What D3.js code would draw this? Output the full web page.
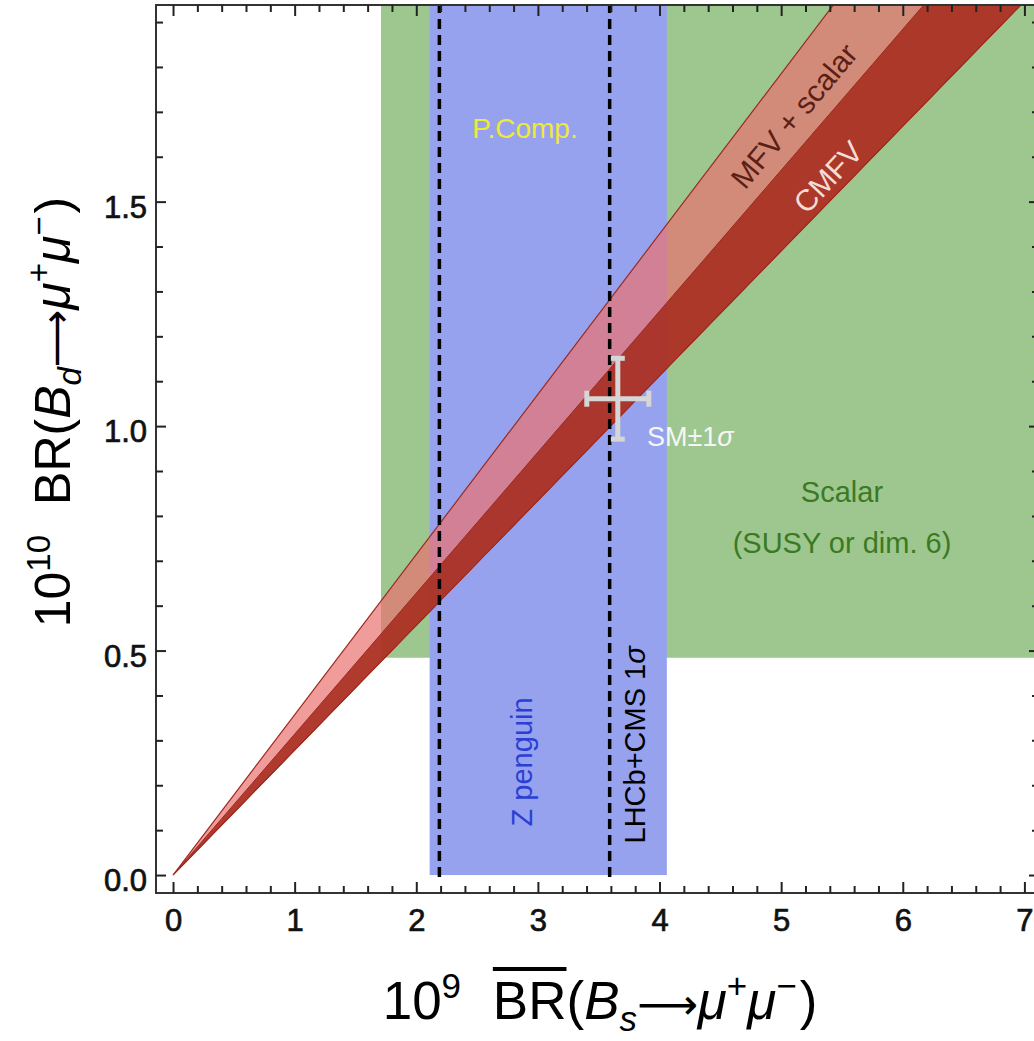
<!DOCTYPE html>
<html>
<head>
<meta charset="utf-8">
<script src="https://cdn.jsdelivr.net/npm/d3@7"></script>
<style>
	body { margin: 0; background: #fff; }
	svg { display: block; }
	text { font-family: "Liberation Sans", Arial, sans-serif; }
</style>
</head>
<body>
<svg id="chart" width="1034" height="1041"></svg>
<script>
// regions of the plane, in data units
var scalarCorner = [1.71, 0.484];          // green box starts here, runs to top/right
var zPenguinX = [2.11, 4.06];              // blue band (from BR_d = 0 up)
var lhcbCmsX = [2.19, 3.59];               // dashed 1 sigma lines
var mfvSlopes = [0.278, 0.357];            // MFV + scalar wedge
var cmfvSlopes = [0.278, 0.314];           // CMFV wedge
var smPoint = [3.657, 1.061];
var smErr = [0.255, 0.09];

var xMajor = [0, 1, 2, 3, 4, 5, 6, 7];
var yMajor = [0, 0.5, 1.0, 1.5];

;(function(){
	var svg = d3.select("#chart");

	var left = 156, right = 1039, top = 5, bottom = 893;

	var x = d3.scaleLinear().domain([-0.14, 7.12]).range([left, right]);
	var y = d3.scaleLinear().domain([-0.04, 1.938]).range([bottom, top]);

	var xMinor = d3.range(0, 7.01, 0.2).filter(function(d){ return Math.abs(d - Math.round(d)) > 1e-6; });
	var yMinor = d3.range(0, 1.95, 0.1).filter(function(d){ return Math.abs(d*2 - Math.round(d*2)) > 1e-6; });

	svg.append("clipPath").attr("id", "plotclip")
		.append("rect")
			.attr("x", left).attr("y", top)
			.attr("width", right - left).attr("height", bottom - top);

	var plot = svg.append("g").attr("clip-path", "url(#plotclip)");

	// scalar region (green)
	plot.append("rect")
		.attr("x", x(scalarCorner[0]))
		.attr("y", y(y.domain()[1]))
		.attr("width", x(x.domain()[1]) - x(scalarCorner[0]))
		.attr("height", y(scalarCorner[1]) - y(y.domain()[1]))
		.attr("fill", "#9ec78f");

	// Z penguin (blue)
	plot.append("rect")
		.attr("x", x(zPenguinX[0]))
		.attr("y", y(y.domain()[1]))
		.attr("width", x(zPenguinX[1]) - x(zPenguinX[0]))
		.attr("height", y(0) - y(y.domain()[1]))
		.attr("fill", "#96a2ee");

	// wedges from origin
	function wedge(slopes){
		var xe = 8;
		return [[x(0), y(0)], [x(xe), y(slopes[1]*xe)], [x(xe), y(slopes[0]*xe)]];
	}
	var line = d3.line();

	plot.append("path")
		.attr("d", line(wedge(mfvSlopes)) + "Z")
		.attr("fill", "rgb(233,114,111)")
		.attr("fill-opacity", 0.7)
		.attr("stroke", "#9c2a20")
		.attr("stroke-width", 1.2);

	plot.append("path")
		.attr("d", line(wedge(cmfvSlopes)) + "Z")
		.attr("fill", "rgb(165,41,27)")
		.attr("fill-opacity", 0.85)
		.attr("stroke", "#9c2a20")
		.attr("stroke-width", 1);

	// LHCb+CMS dashed lines
	plot.selectAll("line.lhcb")
		.data(lhcbCmsX)
		.enter().append("line")
			.attr("class", "lhcb")
			.attr("x1", function(d){ return x(d); })
			.attr("x2", function(d){ return x(d); })
			.attr("y1", y(0) + 2)
			.attr("y2", y(y.domain()[1]))
			.attr("stroke", "#000")
			.attr("stroke-width", 3.5)
			.attr("stroke-dasharray", "10,6");

	// SM +- 1 sigma cross
	var sm = plot.append("g")
		.attr("stroke", "#d6d6d6")
		.attr("stroke-width", 5)
		.attr("fill", "none");
	var sx = x(smPoint[0]), sy = y(smPoint[1]);
	var sx0 = x(smPoint[0] - smErr[0]), sx1 = x(smPoint[0] + smErr[0]);
	var sy0 = y(smPoint[1] - smErr[1]), sy1 = y(smPoint[1] + smErr[1]);
	sm.append("line").attr("x1", sx0).attr("x2", sx1).attr("y1", sy).attr("y2", sy);
	sm.append("line").attr("x1", sx).attr("x2", sx).attr("y1", sy0).attr("y2", sy1);
	[sx0, sx1].forEach(function(d){
		sm.append("line").attr("x1", d).attr("x2", d).attr("y1", sy - 8).attr("y2", sy + 8);
	});
	[sy0, sy1].forEach(function(d){
		sm.append("line").attr("x1", sx - 7).attr("x2", sx + 7).attr("y1", d).attr("y2", d);
	});

	// in-plot labels
	function label(t, px, py, opts){
		var el = svg.append("text")
			.attr("transform", "translate(" + x(px) + "," + y(py) + ")" + (opts.rot ? " rotate(" + opts.rot + ")" : ""))
			.attr("text-anchor", opts.anchor || "middle")
			.attr("fill", opts.fill)
			.style("font-size", (opts.size || 29) + "px")
			.text(t);
		if (opts.central) el.attr("dominant-baseline", "central");
		return el;
	}
	label("P.Comp.", 2.894, 1.642, {fill: "#f0e83a", size: 28});
	label("MFV + scalar", 5.106, 1.691, {fill: "#5c1f16", size: 30, rot: -50, central: true});
	label("CMFV", 5.385, 1.555, {fill: "#f5dcd6", size: 30, rot: -47, central: true});
	label("Scalar", 5.50, 0.831, {fill: "#3b7a22", size: 29});
	label("(SUSY or dim. 6)", 5.50, 0.717, {fill: "#3b7a22", size: 29});
	label("Z penguin", 2.869, 0.252, {fill: "#2b3fd4", size: 29, rot: -90, central: true});
	var lh = label("LHCb+CMS 1", 3.798, 0.290, {fill: "#000", size: 29, rot: -90, central: true});
	lh.append("tspan").style("font-style", "italic").text("σ");
	var smt = label("SM±1", 3.897, 0.956, {fill: "#f6f6f6", size: 27, anchor: "start"});
	smt.append("tspan").style("font-style", "italic").text("σ");

	// frame and ticks
	svg.append("rect")
		.attr("x", left).attr("y", top)
		.attr("width", right - left).attr("height", bottom - top)
		.attr("fill", "none")
		.attr("stroke", "#333")
		.attr("stroke-width", 2);

	function tickAxis(axis, pos, vals, size, labels){
		var g = svg.append("g")
			.attr("transform", pos)
			.call(axis.tickValues(vals).tickSizeInner(-size).tickSizeOuter(0));
		g.select(".domain").remove();
		g.selectAll(".tick line").attr("stroke", "#222").attr("stroke-width", 2);
		if (!labels) g.selectAll(".tick text").remove();
		return g;
	}

	var gx = tickAxis(d3.axisBottom(x).tickPadding(16).tickFormat(d3.format("d")), "translate(0," + bottom + ")", xMajor, 11, true);
	tickAxis(d3.axisBottom(x), "translate(0," + bottom + ")", xMinor, 7, false);
	tickAxis(d3.axisTop(x), "translate(0," + top + ")", xMajor, 11, false);
	tickAxis(d3.axisTop(x), "translate(0," + top + ")", xMinor, 7, false);

	var gy = tickAxis(d3.axisLeft(y).tickPadding(9).tickFormat(d3.format(".1f")), "translate(" + left + ",0)", yMajor, 10, true);
	tickAxis(d3.axisLeft(y), "translate(" + left + ",0)", yMinor, 7, false);
	tickAxis(d3.axisRight(y), "translate(" + right + ",0)", yMajor, 10, false);
	tickAxis(d3.axisRight(y), "translate(" + right + ",0)", yMinor, 7, false);

	[gx, gy].forEach(function(g){
		g.selectAll(".tick text")
			.attr("fill", "#111")
			.attr("stroke", "#111")
			.attr("stroke-width", 0.7)
			.style("font-family", "'Liberation Sans', Arial, sans-serif")
			.style("font-size", "31px");
	});
	gy.selectAll(".tick text").attr("dy", "0.5em");

	// axis titles
	function title(g, exp, sub, overline, size){
		var k = size / 50;
		var t = g.append("text")
			.attr("text-anchor", "middle")
			.attr("fill", "#000")
			.style("font-size", size + "px");
		t.append("tspan").text("10");
		t.append("tspan").attr("dy", -20*k).style("font-size", 33*k + "px").text(exp);
		t.append("tspan").attr("dy", 20*k).attr("dx", 30*k).text("BR(");
		t.append("tspan").style("font-style", "italic").text("B");
		t.append("tspan").attr("dy", 11*k).style("font-size", 33*k + "px").style("font-style", "italic").text(sub);
		t.append("tspan").attr("dy", -11*k).style("font-family", "'DejaVu Sans', sans-serif").style("font-size", 40*k + "px").text("⟶");
		t.append("tspan").style("font-style", "italic").text("μ");
		t.append("tspan").attr("dy", -20*k).style("font-size", 33*k + "px").text("+");
		t.append("tspan").attr("dy", 20*k).style("font-style", "italic").text("μ");
		t.append("tspan").attr("dy", -20*k).style("font-size", 33*k + "px").text("−");
		t.append("tspan").attr("dy", 20*k).attr("dx", 3).text(")");
		if (overline){
			var i0 = 2 + exp.length;
			var b = t.node().getExtentOfChar(i0);
			var r = t.node().getExtentOfChar(i0 + 1);
			g.append("line")
				.attr("x1", b.x).attr("x2", r.x + r.width)
				.attr("y1", b.y - 2).attr("y2", b.y - 2)
				.attr("stroke", "#000").attr("stroke-width", 4);
		}
	}

	title(svg.append("g").attr("transform", "translate(600,1019)"), "9", "s", true, 53);
	title(svg.append("g").attr("transform", "translate(70,412) rotate(-90)"), "10", "d", false, 50);
})();
</script>
</body>
</html>
